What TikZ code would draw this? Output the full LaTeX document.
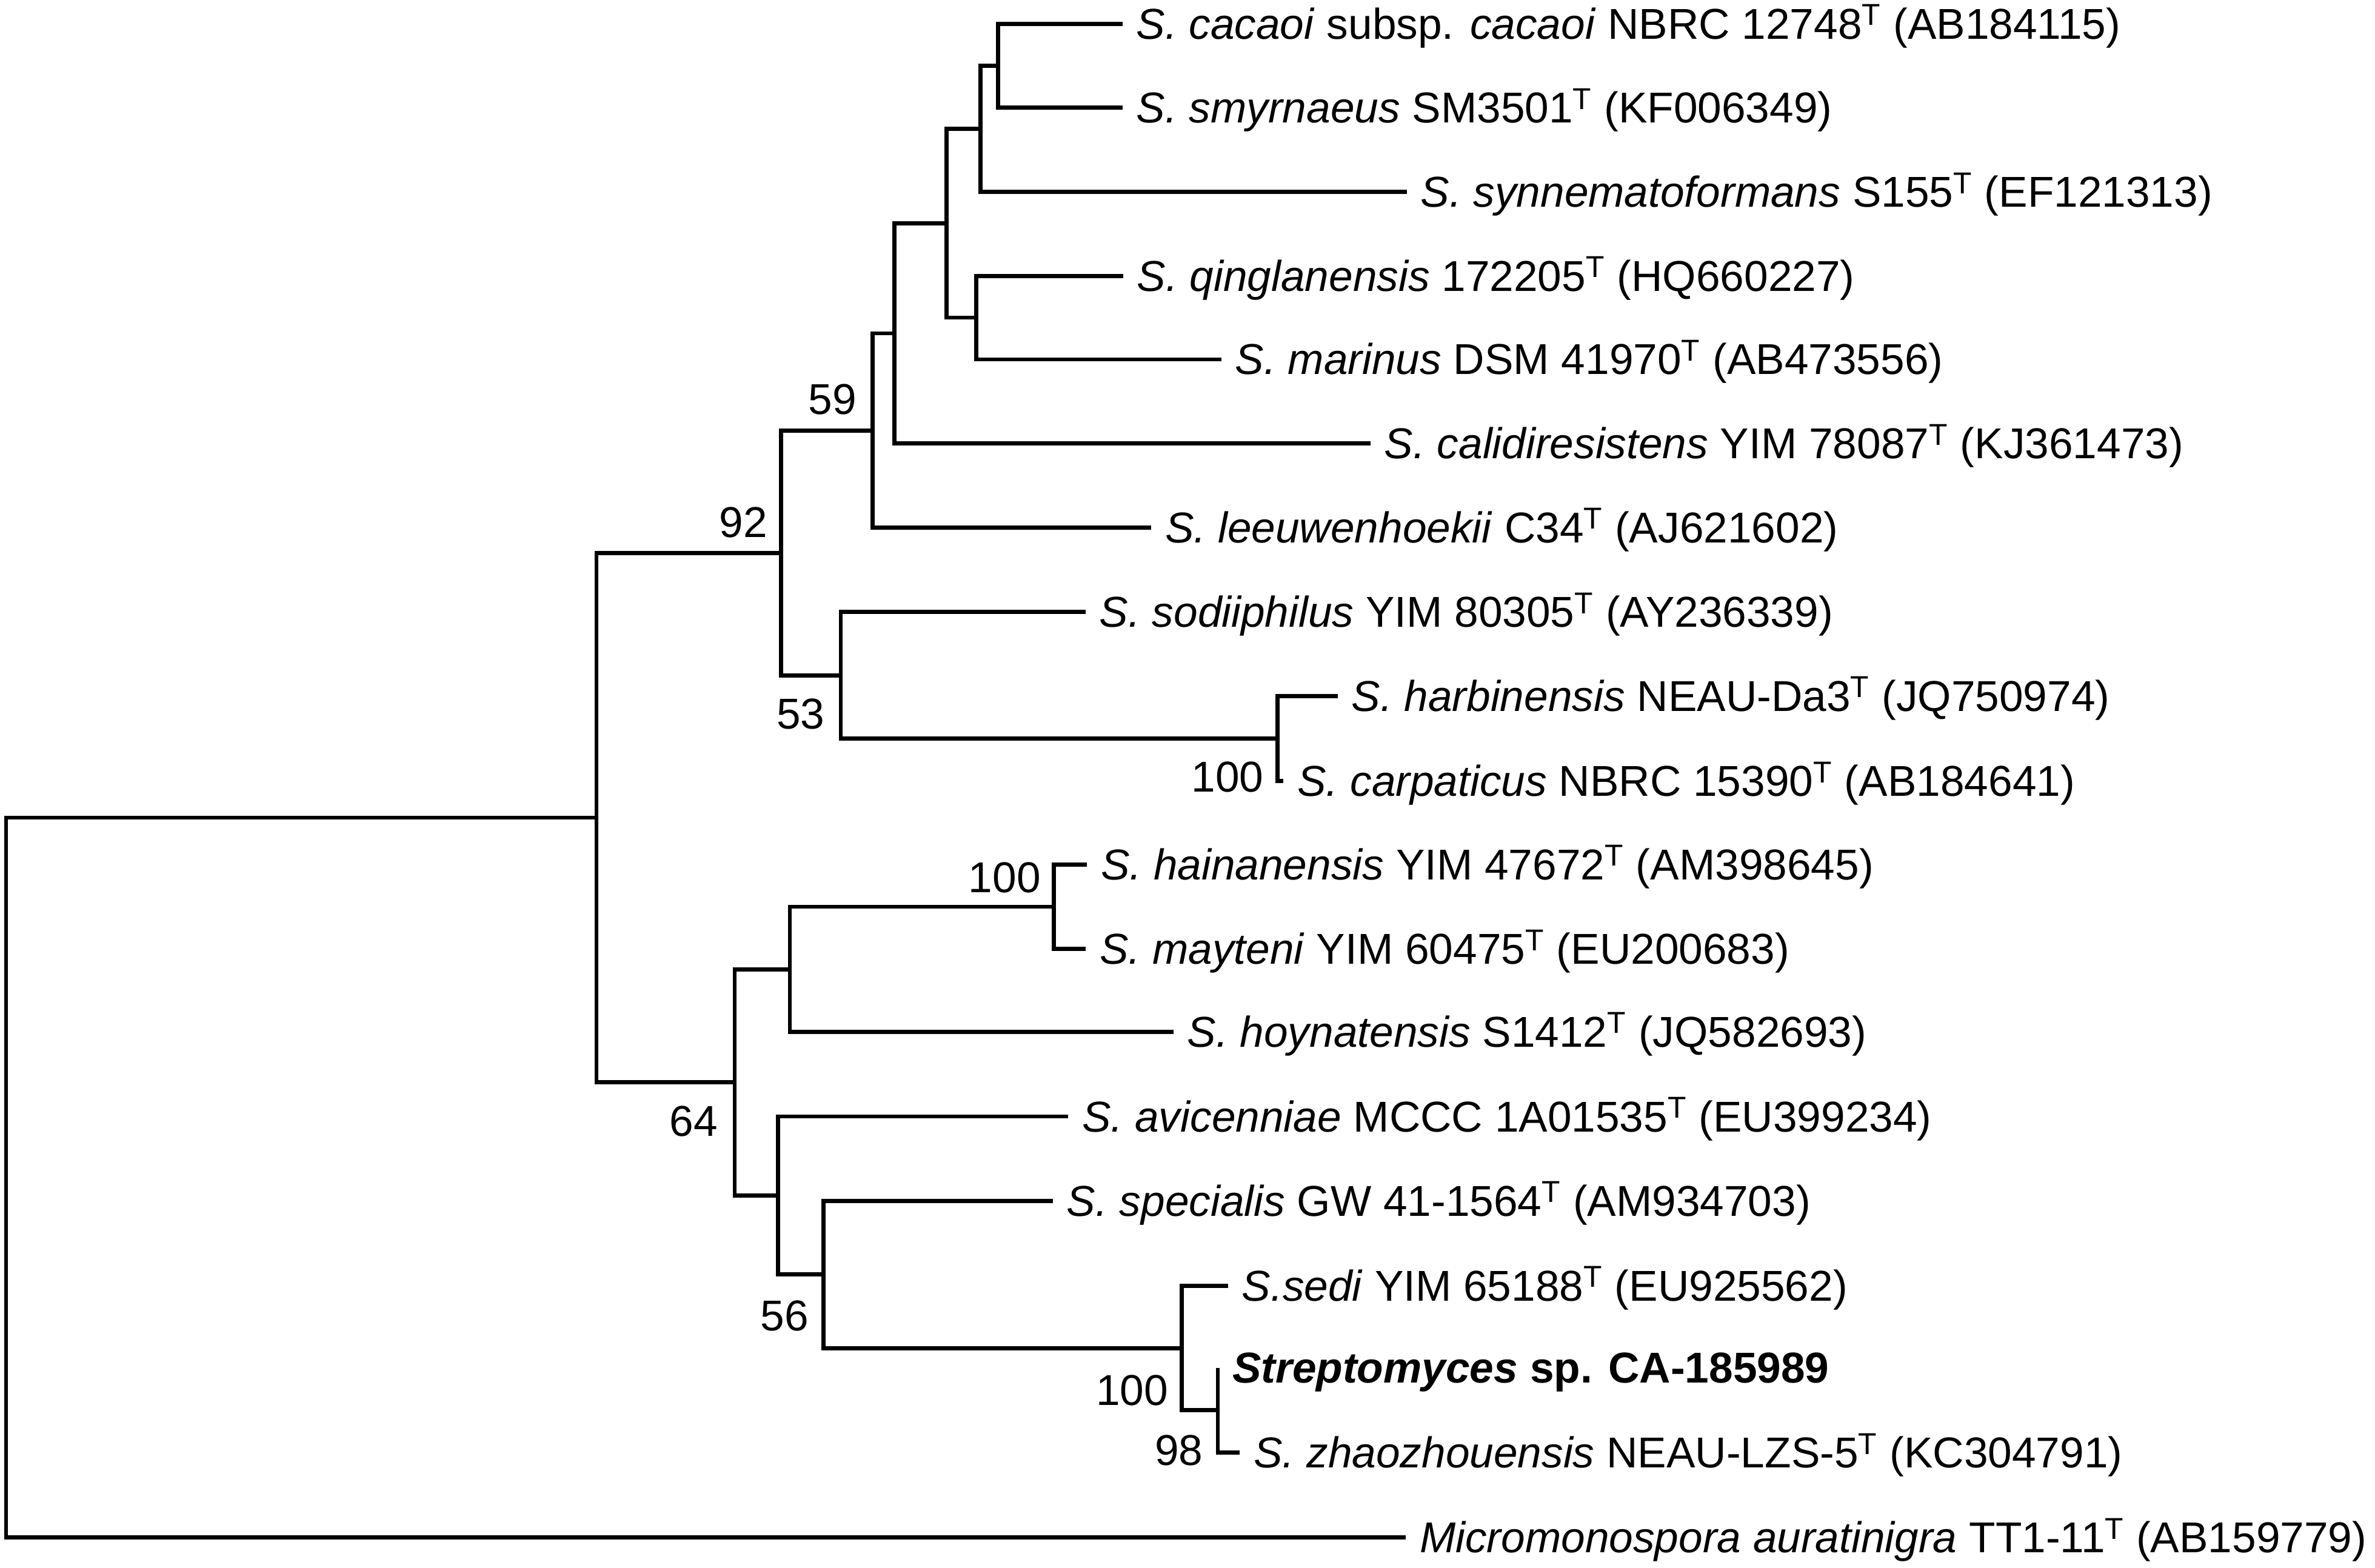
\documentclass[tikz,border=0pt]{standalone}
\usepackage{fontspec}
\setmainfont{Liberation Sans}
\usetikzlibrary{calc}
\newcommand\Tsup{\textsuperscript{T}}
\tikzset{
  br/.style={line width=2.7pt, line join=miter, line cap=butt},
  leaf/.style={anchor=base west, inner sep=0pt, font=\fontsize{28.5pt}{34pt}\selectfont},
  boot/.style={anchor=base east, inner sep=0pt, font=\fontsize{28.5pt}{34pt}\selectfont},
}
\begin{document}
\begin{tikzpicture}[x=1pt,y=-1pt]
\useasboundingbox (0,0) rectangle (1568,1035);
% leaf tips
\coordinate (t1) at (741.0,15.7);
\coordinate (t2) at (741.0,71.1);
\coordinate (t3) at (928.7,126.8);
\coordinate (t4) at (741.5,182.2);
\coordinate (t5) at (806.3,237.3);
\coordinate (t6) at (904.8,292.8);
\coordinate (t7) at (760.1,348.3);
\coordinate (t8) at (716.7,404.1);
\coordinate (t9) at (883.1,459.6);
\coordinate (t10) at (847.4,515.8);
\coordinate (t11) at (717.6,570.9);
\coordinate (t12) at (716.8,626.6);
\coordinate (t13) at (774.7,681.2);
\coordinate (t14) at (705.3,737.2);
\coordinate (t15) at (695.1,793.0);
\coordinate (t16) at (810.7,849.0);
\coordinate (t17) at (804.0,903.2);
\coordinate (t18) at (818.6,959.2);
\coordinate (t19) at (928.1,1015.2);
% internal nodes
\coordinate (A) at (658.8,43.4);
\coordinate (B) at (647.3,85.1);
\coordinate (D) at (644.5,209.75);
\coordinate (C) at (625.0,147.4);
\coordinate (E) at (590.5,220.1);
\coordinate (F) at (576.1,284.2);
\coordinate (I) at (843.5,487.7);
\coordinate (H) at (555.1,445.9);
\coordinate (G) at (515.6,365.05);
\coordinate (M) at (695.6,598.75);
\coordinate (L) at (521.5,639.98);
\coordinate (Q) at (804.0,931.2);
\coordinate (P) at (780.1,890.1);
\coordinate (O) at (543.7,841.55);
\coordinate (N) at (513.8,789.4);
\coordinate (K) at (485.0,714.7);
\coordinate (J) at (393.8,539.9);
\coordinate (R) at (4.0,777.55);
% branches
\draw[br] (R) |- (J);  \draw[br] (R) |- (t19);
\draw[br] (J) |- (G);  \draw[br] (J) |- (K);
\draw[br] (G) |- (F);  \draw[br] (G) |- (H);
\draw[br] (F) |- (E);  \draw[br] (F) |- (t7);
\draw[br] (E) |- (C);  \draw[br] (E) |- (t6);
\draw[br] (C) |- (B);  \draw[br] (C) |- (D);
\draw[br] (B) |- (A);  \draw[br] (B) |- (t3);
\draw[br] (A) |- (t1); \draw[br] (A) |- (t2);
\draw[br] (D) |- (t4); \draw[br] (D) |- (t5);
\draw[br] (H) |- (t8); \draw[br] (H) |- (I);
\draw[br] (I) |- (t9); \draw[br] (I) |- (t10);
\draw[br] (K) |- (L);  \draw[br] (K) |- (N);
\draw[br] (L) |- (M);  \draw[br] (L) |- (t13);
\draw[br] (M) |- (t11); \draw[br] (M) |- (t12);
\draw[br] (N) |- (t14); \draw[br] (N) |- (O);
\draw[br] (O) |- (t15); \draw[br] (O) |- (P);
\draw[br] (P) |- (t16); \draw[br] (P) |- (Q);
\draw[br] (Q) |- (t17); \draw[br] (Q) |- (t18);
% leaf labels
\node[leaf] (n1) at ($(t1)+(9,10)$) {\textit{S. cacaoi} subsp. \textit{cacaoi} NBRC 12748\Tsup{} (AB184115)};
\node[leaf] (n2) at ($(t2)+(9,10)$) {\textit{S. smyrnaeus} SM3501\Tsup{} (KF006349)};
\node[leaf] (n3) at ($(t3)+(9,10)$) {\textit{S. synnematoformans} S155\Tsup{} (EF121313)};
\node[leaf] (n4) at ($(t4)+(9,10)$) {\textit{S. qinglanensis} 172205\Tsup{} (HQ660227)};
\node[leaf] (n5) at ($(t5)+(9,10)$) {\textit{S. marinus} DSM 41970\Tsup{} (AB473556)};
\node[leaf] (n6) at ($(t6)+(9,10)$) {\textit{S. calidiresistens} YIM 78087\Tsup{} (KJ361473)};
\node[leaf] (n7) at ($(t7)+(9,10)$) {\textit{S. leeuwenhoekii} C34\Tsup{} (AJ621602)};
\node[leaf] (n8) at ($(t8)+(9,10)$) {\textit{S. sodiiphilus} YIM 80305\Tsup{} (AY236339)};
\node[leaf] (n9) at ($(t9)+(9,10)$) {\textit{S. harbinensis} NEAU-Da3\Tsup{} (JQ750974)};
\node[leaf] (n10) at ($(t10)+(9,10)$) {\textit{S. carpaticus} NBRC 15390\Tsup{} (AB184641)};
\node[leaf] (n11) at ($(t11)+(9,10)$) {\textit{S. hainanensis} YIM 47672\Tsup{} (AM398645)};
\node[leaf] (n12) at ($(t12)+(9,10)$) {\textit{S. mayteni} YIM 60475\Tsup{} (EU200683)};
\node[leaf] (n13) at ($(t13)+(9,10)$) {\textit{S. hoynatensis} S1412\Tsup{} (JQ582693)};
\node[leaf] (n14) at ($(t14)+(9,10)$) {\textit{S. avicenniae} MCCC 1A01535\Tsup{} (EU399234)};
\node[leaf] (n15) at ($(t15)+(9,10)$) {\textit{S. specialis} GW 41-1564\Tsup{} (AM934703)};
\node[leaf] (n16) at ($(t16)+(9,10)$) {\textit{S.sedi} YIM 65188\Tsup{} (EU925562)};
\node[leaf] (n17) at ($(t17)+(9.5,10)$) {\textbf{\textit{Streptomyces} sp. CA-185989}};
\node[leaf] (n18) at ($(t18)+(9,10)$) {\textit{S. zhaozhouensis} NEAU-LZS-5\Tsup{} (KC304791)};
\node[leaf] (n19) at ($(t19)+(9,10)$) {\textit{Micromonospora auratinigra} TT1-11\Tsup{} (AB159779)};
% bootstrap values
\node[boot] (b92) at (506.9,354.6) {92};
\node[boot] (b59) at (565.6,273.6) {59};
\node[boot] (b53) at (544.6,481.1) {53};
\node[boot] (b100a) at (834.4,522.9) {100};
\node[boot] (b100b) at (687.2,589.3) {100};
\node[boot] (b64) at (474.0,750.0) {64};
\node[boot] (b56) at (534.0,878.7) {56};
\node[boot] (b100c) at (771.4,927.7) {100};
\node[boot] (b98) at (794.3,967.5) {98};
\end{tikzpicture}
\end{document}
